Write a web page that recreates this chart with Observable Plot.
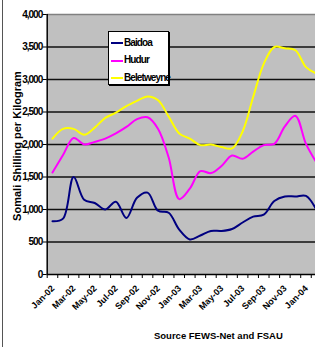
<!DOCTYPE html>
<html><head><meta charset="utf-8">
<script src="https://cdn.jsdelivr.net/npm/d3@7"></script>
<script src="https://cdn.jsdelivr.net/npm/@observablehq/plot@0.6"></script>
<style>
body{margin:0;background:#fff;}
#wrap{position:relative;width:315px;height:347px;overflow:hidden;font-family:Arial,"Liberation Sans",sans-serif;}
#wrap svg{position:absolute;left:0;top:0;}
#border{position:absolute;left:2px;top:0;width:0;height:347px;border-left:1px solid #555;}
#legend{position:absolute;left:108px;top:31px;width:61px;height:54px;background:#fff;border:1px solid #000;box-shadow:1px 1px 0 #000;box-sizing:border-box;}
#legend .row{position:absolute;left:2px;height:12px;line-height:12px;font-size:10px;font-weight:bold;letter-spacing:-0.9px;color:#000;white-space:nowrap;}
#legend .sw{display:inline-block;width:12px;height:2px;vertical-align:middle;margin-right:1px;}
[aria-label="y-axis tick label"] text{letter-spacing:-1px;}
[aria-label="xlabels"] text{letter-spacing:-0.4px;}
</style></head><body>
<div id="wrap"><div id="border"></div></div>
<script>
const months = ["Jan-02","Feb-02","Mar-02","Apr-02","May-02","Jun-02","Jul-02","Aug-02","Sep-02","Oct-02","Nov-02","Dec-02",
  "Jan-03","Feb-03","Mar-03","Apr-03","May-03","Jun-03","Jul-03","Aug-03","Sep-03","Oct-03","Nov-03","Dec-03","Jan-04","Feb-04"];
const baidoa = [820, 860, 1500, 1150, 1100, 1000, 1120, 870, 1180, 1260, 980, 950, 690, 540, 600, 670, 670, 700, 800, 890, 920, 1130, 1200, 1200, 1210, 990];
const hudur = [1570, 1840, 2100, 2000, 2040, 2090, 2170, 2270, 2390, 2420, 2240, 1800, 1160, 1320, 1590, 1560, 1670, 1830, 1780, 1890, 1990, 2010, 2280, 2440, 2010, 1720];
const beletweyne = [2090, 2240, 2240, 2150, 2260, 2410, 2490, 2590, 2670, 2740, 2680, 2430, 2170, 2090, 1990, 2000, 1960, 1940, 2200, 2730, 3240, 3500, 3480, 3450, 3190, 3090];
const seriesNames = ["Baidoa", "Hudur", "Beletweyne"];
const seriesColors = ["#000080", "#ff00ff", "#ffff00"];
const yTicks = [0, 500, 1000, 1500, 2000, 2500, 3000, 3500, 4000];
const labelIdx = months.map((m, i) => i).filter(i => i % 2 === 0 && i <= 24);
const yTitle = "Somali Shilling per Kilogram";
const caption = "Source FEWS-Net and FSAU";

const seriesValues = [baidoa, hudur, beletweyne];
const rows = [];
seriesNames.forEach((name, s) => seriesValues[s].forEach((v, i) => rows.push({series: name, x: i + 0.5, value: v})));

const font = "Arial, 'Liberation Sans', sans-serif";
const chart = Plot.plot({
  width: 315, height: 347,
  marginLeft: 46.7, marginRight: 0, marginTop: 14, marginBottom: 73,
  style: {background: "transparent", fontFamily: font, color: "#000"},
  x: {type: "linear", domain: [0, 25.4], axis: null},
  y: {domain: [0, 4000], axis: null},
  color: {domain: seriesNames, range: seriesColors},
  marks: [
    Plot.frame({fill: "#c0c0c0", stroke: null}),
    Plot.ruleY(yTicks.filter(v => v > 0 && v < 4000), {stroke: "#111", strokeWidth: 1.5}),
    Plot.ruleY([4000], {stroke: "#808080", strokeWidth: 1.5}),
    Plot.line(rows, {x: "x", y: "value", z: "series", stroke: "series", strokeWidth: 2, curve: "catmull-rom", clip: true}),
    Plot.ruleX([0], {stroke: "#000", strokeWidth: 1.5}),
    Plot.ruleY([0], {stroke: "#000", strokeWidth: 1.5}),
    Plot.axisY({ticks: yTicks, tickSize: 4, tickPadding: 1, tickFormat: d3.format(","), fontSize: 10, fontWeight: "bold", label: null}),
    Plot.axisX({ticks: d3.range(0, 26), tickSize: 4, tickFormat: () => "", label: null}),
    Plot.text(labelIdx, {ariaLabel: "xlabels", x: d => d + 0.5, frameAnchor: "bottom", text: d => months[d], rotate: -45, textAnchor: "end", lineAnchor: "middle", dx: 0.5, dy: 12.5, fontSize: 9, fontWeight: "bold"}),
    Plot.text([yTitle], {frameAnchor: "left", textAnchor: "middle", rotate: -90, dx: -30, dy: 1.5, fontSize: 11, fontWeight: "bold"}),
    Plot.text([caption], {frameAnchor: "bottom", dx: 37, dy: 64.5, fontSize: 9.5, fontWeight: "bold"})
  ]
});
const wrap = document.getElementById("wrap");
wrap.appendChild(chart);

const legend = document.createElement("div");
legend.id = "legend";
const rowTops = [4.5, 22.2, 39.8];
seriesNames.forEach((name, i) => {
  const r = document.createElement("div");
  r.className = "row";
  r.style.top = rowTops[i] + "px";
  const sw = document.createElement("span");
  sw.className = "sw";
  sw.style.background = seriesColors[i];
  r.appendChild(sw);
  r.appendChild(document.createTextNode(name));
  legend.appendChild(r);
});
wrap.appendChild(legend);
</script>
</body></html>
